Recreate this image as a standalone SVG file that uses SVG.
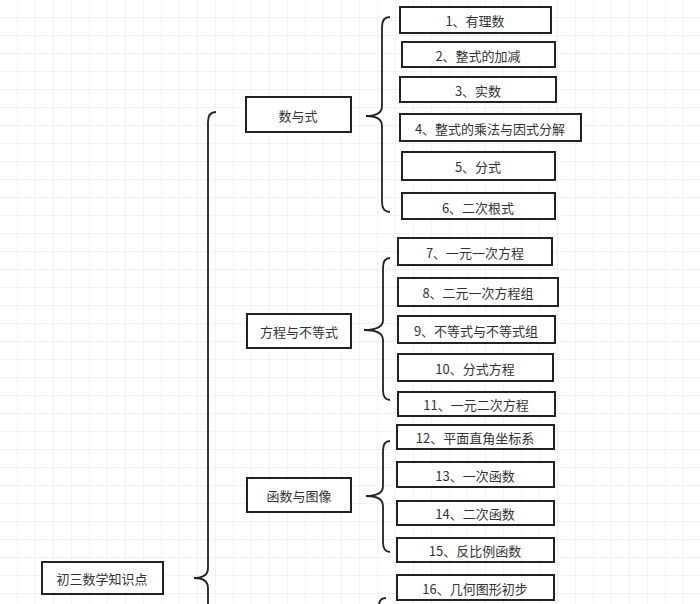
<svg xmlns="http://www.w3.org/2000/svg" width="700" height="604" viewBox="0 0 700 604">
<defs>
<pattern id="grid" width="18" height="18" patternUnits="userSpaceOnUse"><path d="M18 0V18H0" fill="none" stroke="#e6e6e6" stroke-width="1"/></pattern>
<style>
.b{fill:#fff;stroke:#222;stroke-width:2}
.t{font-family:"Noto Sans CJK SC","Liberation Sans",sans-serif;font-size:13px;fill:#333;text-anchor:middle;dominant-baseline:central}
.c{fill:none;stroke:#222;stroke-width:1.8}
</style>
</defs>
<rect width="700" height="604" fill="#fff"/>
<rect width="700" height="604" fill="url(#grid)"/>
<g id="connectors">
<path class="c" d="M216 112 Q208 112 208 122 L208 568 Q208 578 194 578 Q208 578 208 588 L208 604"/>
<path class="c" d="M390 17 Q382 17 382 27 L382 106 Q382 116 366 116 Q382 116 382 126 L382 202 Q382 212 390 212"/>
<path class="c" d="M390 258 Q383 258 383 268 L383 320 Q383 330 364 330 Q383 330 383 340 L383 390 Q383 400 390 400"/>
<path class="c" d="M390 441 Q383 441 383 451 L383 486 Q383 496 366 496 Q383 496 383 506 L383 542 Q383 552 390 552"/>
<path class="c" d="M386 598 Q379 598 379 606"/>
</g>
<g id="root"><rect class="b" x="42" y="562" width="121" height="32"/><text class="t" x="102" y="578">初三数学知识点</text></g>
<g id="n-sys"><rect class="b" x="246" y="97" width="105" height="35"/><text class="t" x="298" y="115">数与式</text></g>
<g id="n-eq"><rect class="b" x="247" y="314" width="104" height="34"/><text class="t" x="299" y="331">方程与不等式</text></g>
<g id="n-fn"><rect class="b" x="247" y="478" width="104" height="34"/><text class="t" x="299" y="495">函数与图像</text></g>
<g id="n1"><rect class="b" x="400" y="7" width="151" height="26"/><text class="t" x="475" y="20">1、有理数</text></g>
<g id="n2"><rect class="b" x="402" y="42" width="153" height="25"/><text class="t" x="478" y="55">2、整式的加减</text></g>
<g id="n3"><rect class="b" x="400" y="77" width="156" height="25"/><text class="t" x="478" y="90">3、实数</text></g>
<g id="n4"><rect class="b" x="400" y="114" width="181" height="27"/><text class="t" x="490" y="128">4、整式的乘法与因式分解</text></g>
<g id="n5"><rect class="b" x="402" y="152" width="153" height="28"/><text class="t" x="478" y="166">5、分式</text></g>
<g id="n6"><rect class="b" x="402" y="193" width="153" height="26"/><text class="t" x="478" y="207">6、二次根式</text></g>
<g id="n7"><rect class="b" x="398" y="238" width="154" height="27"/><text class="t" x="475" y="252">7、一元一次方程</text></g>
<g id="n8"><rect class="b" x="398" y="278" width="160" height="28"/><text class="t" x="478" y="292">8、二元一次方程组</text></g>
<g id="n9"><rect class="b" x="398" y="316" width="157" height="27"/><text class="t" x="476" y="330">9、不等式与不等式组</text></g>
<g id="n10"><rect class="b" x="398" y="354" width="155" height="27"/><text class="t" x="475" y="368">10、分式方程</text></g>
<g id="n11"><rect class="b" x="398" y="392" width="157" height="24"/><text class="t" x="476" y="404">11、一元二次方程</text></g>
<g id="n12"><rect class="b" x="397" y="425" width="157" height="24"/><text class="t" x="475" y="437">12、平面直角坐标系</text></g>
<g id="n13"><rect class="b" x="397" y="462" width="157" height="25"/><text class="t" x="475" y="475">13、一次函数</text></g>
<g id="n14"><rect class="b" x="397" y="501" width="157" height="24"/><text class="t" x="475" y="513">14、二次函数</text></g>
<g id="n15"><rect class="b" x="397" y="538" width="157" height="24"/><text class="t" x="475" y="550">15、反比例函数</text></g>
<g id="n16"><rect class="b" x="397" y="575" width="157" height="25"/><text class="t" x="475" y="588">16、几何图形初步</text></g>
</svg>
